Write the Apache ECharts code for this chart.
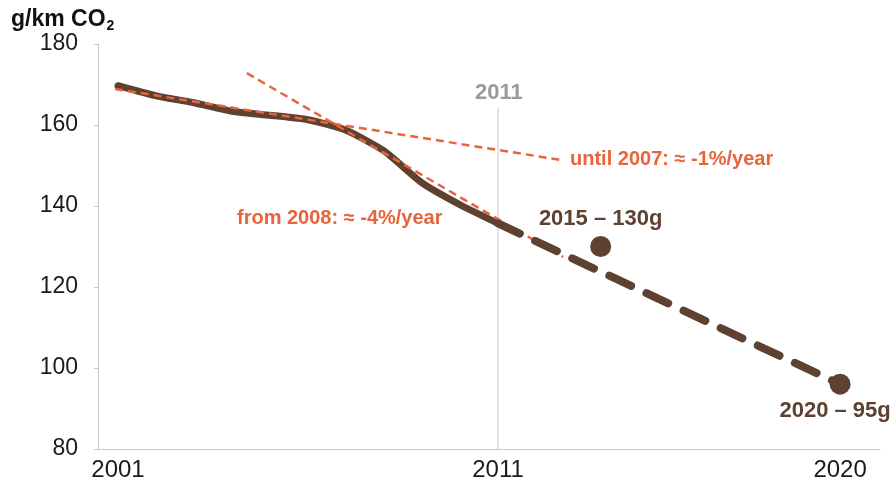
<!DOCTYPE html>
<html>
<head>
<meta charset="utf-8">
<script src="https://cdn.jsdelivr.net/npm/echarts@6/dist/echarts.min.js"></script>
<style>
  html, body { margin: 0; padding: 0; background: #fff; }
  #chart { width: 895px; height: 490px; }
</style>
</head>
<body>
<div id="chart"></div>
<script>
// measured average g/km CO2 of new cars
const years = [2001, 2002, 2003, 2004, 2005, 2006, 2007, 2008, 2009, 2010, 2011];
const co2Values = [169.7, 167.2, 165.5, 163.4, 162.4, 161.3, 158.7, 153.6, 145.7, 140.3, 135.7];

// projection to the 2020 target
const projection = [[2011, 135.7], [2020, 96]];
const targets = [[2013.7, 130], [2020, 96]];
const targetLabels = ["2015 – 130g", "2020 – 95g"];

// trend lines
const trendUntil2007 = [[2000.92, 168.9], [2012.63, 151.4]];
const trendFrom2008 = [[2004.39, 172.8], [2012.71, 127.4]];
const marker2011 = [[2011, 80], [2011, 164.4]];

const xTicks = [2001, 2011, 2020];

const brown = "#5e4131";
const orange = "#e8643c";
const font = "'Liberation Sans', Arial, Helvetica, sans-serif";

const chart = echarts.init(document.getElementById("chart"));

chart.setOption({
  animation: false,
  grid: { left: 98, right: 15, top: 44, bottom: 41 },
  xAxis: {
    type: "value",
    min: 2000.474,
    max: 2021.05,
    axisLine: { show: true, lineStyle: { color: "#c8c8c8", width: 1 } },
    axisTick: { show: false },
    splitLine: { show: false },
    axisLabel: {
      customValues: xTicks,
      formatter: (v) => String(Math.round(v)),
      color: "#1a1a1a",
      fontSize: 24,
      fontFamily: font,
      margin: 9,
    },
  },
  yAxis: {
    type: "value",
    min: 80,
    max: 180,
    interval: 20,
    axisLine: { show: true, lineStyle: { color: "#c8c8c8", width: 1 } },
    axisTick: { show: true, length: 4, lineStyle: { color: "#c8c8c8" } },
    splitLine: { show: false },
    axisLabel: {
      color: "#1a1a1a",
      fontSize: 23,
      fontFamily: font,
      margin: 20,
    },
  },
  graphic: [
    {
      type: "text",
      left: 11,
      top: 8,
      style: {
        text: "{a|g/km CO}{b|2}",
        rich: {
          a: { fontSize: 23, fontWeight: "bold", fontFamily: font, fill: "#111" },
          b: { fontSize: 14, fontWeight: "bold", fontFamily: font, fill: "#111", padding: [13, 0, 0, 1] },
        },
      },
    },
    {
      type: "text",
      left: 237,
      top: 208,
      style: {
        text: "from 2008: ≈ -4%/year",
        fontSize: 20,
        fontWeight: "bold",
        fontFamily: font,
        fill: orange,
      },
    },
    {
      type: "text",
      left: 475,
      top: 82,
      style: {
        text: "2011",
        fontSize: 22,
        fontWeight: "bold",
        fontFamily: font,
        fill: "#9a9a9a",
      },
    },
  ],
  series: [
    {
      type: "line",
      data: marker2011,
      symbol: "none",
      silent: true,
      lineStyle: { color: "#c8c8c8", width: 1 },
      z: 1,
    },
    {
      type: "line",
      data: years.map((y, i) => [y, co2Values[i]]),
      symbol: "none",
      smooth: 0.2,
      lineStyle: { color: brown, width: 7, cap: "round", join: "round" },
      z: 2,
    },
    {
      type: "line",
      data: trendUntil2007,
      symbol: "none",
      lineStyle: { color: orange, width: 2.5, type: [8, 5] },
      endLabel: {
        show: true,
        formatter: "until 2007: ≈ -1%/year",
        color: orange,
        fontSize: 20,
        fontWeight: "bold",
        fontFamily: font,
        distance: 10,
      },
      z: 3,
    },
    {
      type: "line",
      data: trendFrom2008,
      symbol: "none",
      lineStyle: { color: orange, width: 2.5, type: [8, 5] },
      z: 3,
    },
    {
      type: "line",
      data: projection,
      symbol: "none",
      lineStyle: { color: brown, width: 8, type: [24, 17], cap: "round" },
      z: 4,
    },
    {
      type: "scatter",
      data: targets.map((p, i) => ({
        value: p,
        label: {
          show: true,
          formatter: targetLabels[i],
          position: i === 0 ? "top" : "bottom",
          distance: i === 0 ? 6 : 5,
          offset: i === 0 ? [0, 0] : [-5, 0],
        },
      })),
      symbolSize: 21,
      itemStyle: { color: brown, opacity: 1 },
      label: {
        color: brown,
        fontSize: 22,
        fontWeight: "bold",
        fontFamily: font,
      },
      z: 5,
    },
  ],
});
</script>
</body>
</html>
